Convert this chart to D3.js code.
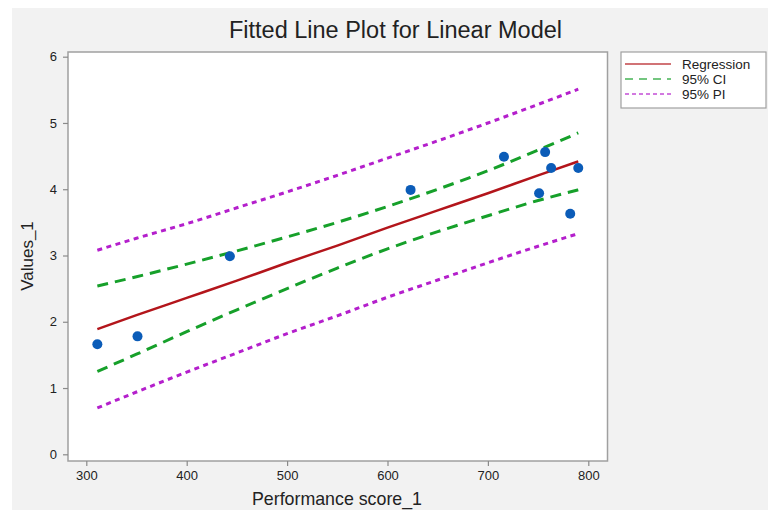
<!DOCTYPE html>
<html>
<head>
<meta charset="utf-8">
<script src="https://cdn.jsdelivr.net/npm/d3@7"></script>
<style>
  body { margin: 0; background: #fff; }
  text { font-family: "Liberation Sans", Arial, sans-serif; fill: #222; }
</style>
</head>
<body>
<div id="chart"></div>
<script>
// observed points
var scoreX = [311, 351, 443, 623, 716, 757, 763, 790, 751, 782];
var valueY = [1.66, 1.78, 2.99, 3.99, 4.49, 4.56, 4.32, 4.32, 3.94, 3.63];

// fitted line and bands, read at these x positions
var fitX  = [311, 350, 400, 450, 500, 550, 600, 650, 700, 750, 790];
var fitY  = [1.89, 2.10, 2.36, 2.62, 2.89, 3.15, 3.42, 3.68, 3.94, 4.21, 4.42];
var ciLow = [1.25, 1.51, 1.85, 2.18, 2.50, 2.81, 3.10, 3.36, 3.60, 3.83, 3.99];
var ciHigh = [2.54, 2.68, 2.87, 3.07, 3.28, 3.50, 3.74, 4.00, 4.28, 4.59, 4.85];
var piLow = [0.70, 0.94, 1.24, 1.53, 1.82, 2.09, 2.37, 2.63, 2.89, 3.14, 3.33];
var piHigh = [3.08, 3.26, 3.48, 3.72, 3.96, 4.21, 4.47, 4.73, 5.00, 5.28, 5.51];

var xTicks = [300, 400, 500, 600, 700, 800];
var yTicks = [0, 1, 2, 3, 4, 5, 6];
var legendNames = ["Regression", "95% CI", "95% PI"];

var W = 768, H = 510;
var frame = {left: 68, right: 607.5, top: 52, bottom: 461};

var svg = d3.select("#chart").append("svg")
    .attr("width", W)
    .attr("height", H);

// grey page background
svg.append("rect")
    .attr("x", 12).attr("y", 8)
    .attr("width", W - 12).attr("height", H - 8)
    .attr("fill", "#f2f2f2");

// plot area
svg.append("rect")
    .attr("x", frame.left).attr("y", frame.top)
    .attr("width", frame.right - frame.left)
    .attr("height", frame.bottom - frame.top)
    .attr("fill", "#fff")
    .attr("stroke", "#a0a0a0")
    .attr("stroke-width", 1.5);

var x = d3.scaleLinear().domain([300, 800]).range([86.3, 588.3]);
var y = d3.scaleLinear().domain([0, 6]).range([454.3, 56.7]);

// axes
var xAxis = svg.append("g")
    .attr("transform", "translate(0," + frame.bottom + ")")
    .call(d3.axisBottom(x).tickValues(xTicks).tickSize(5).tickPadding(5).tickFormat(d3.format("d")));
var yAxis = svg.append("g")
    .attr("transform", "translate(" + frame.left + ",0)")
    .call(d3.axisLeft(y).tickValues(yTicks).tickSize(5).tickPadding(6).tickFormat(d3.format("d")));

[xAxis, yAxis].forEach(function(a) {
  a.select(".domain").remove();
  a.selectAll(".tick line").attr("stroke", "#8a8a8a").attr("stroke-width", 1.2);
  a.selectAll(".tick text").style("font-size", "13px").attr("fill", "#222");
});

// lines
var line = function(vals) {
  return d3.line()
    .curve(d3.curveMonotoneX)
    .x(function(d, i) { return x(fitX[i]); })
    .y(function(d) { return y(d); })(vals);
};

var series = [
  {vals: piLow,  color: "#b41fcc", dash: "5,4.5", w: 3},
  {vals: piHigh, color: "#b41fcc", dash: "5,4.5", w: 3},
  {vals: ciLow,  color: "#16a02a", dash: "11,7", w: 3},
  {vals: ciHigh, color: "#16a02a", dash: "11,7", w: 3},
  {vals: fitY,   color: "#b3151b", dash: null, w: 2.5}
];

svg.append("g").selectAll("path")
  .data(series)
  .enter().append("path")
    .attr("d", function(d) { return line(d.vals); })
    .attr("fill", "none")
    .attr("stroke", function(d) { return d.color; })
    .attr("stroke-width", function(d) { return d.w; })
    .attr("stroke-dasharray", function(d) { return d.dash; });

// points
svg.append("g").selectAll("circle")
  .data(scoreX)
  .enter().append("circle")
    .attr("cx", function(d) { return x(d); })
    .attr("cy", function(d, i) { return y(valueY[i]); })
    .attr("r", 5)
    .attr("fill", "#0b5cb8");

// title and axis labels
svg.append("text")
    .attr("x", 395.5).attr("y", 38)
    .attr("text-anchor", "middle")
    .style("font-size", "23.5px")
    .text("Fitted Line Plot for Linear Model");

svg.append("text")
    .attr("x", 337).attr("y", 505)
    .attr("text-anchor", "middle")
    .style("font-size", "17.8px")
    .text("Performance score_1");

svg.append("text")
    .attr("transform", "translate(33,256) rotate(-90)")
    .attr("text-anchor", "middle")
    .style("font-size", "17px")
    .text("Values_1");

// legend
var lg = svg.append("g");
lg.append("rect")
    .attr("x", 621).attr("y", 52)
    .attr("width", 145).attr("height", 56)
    .attr("fill", "#fff")
    .attr("stroke", "#a0a0a0")
    .attr("stroke-width", 1.2);

var legendStyle = [series[4], series[2], series[0]];
var item = lg.selectAll(".legend")
    .data(legendNames)
    .enter().append("g")
    .attr("class", "legend")
    .attr("transform", function(d, i) { return "translate(0," + (64 + i * 15) + ")"; });

item.append("line")
    .attr("x1", 625).attr("x2", 671)
    .attr("stroke", function(d, i) { return legendStyle[i].color; })
    .attr("stroke-opacity", 0.6)
    .attr("stroke-width", 2)
    .attr("stroke-dasharray", function(d, i) { return i == 0 ? null : (i == 1 ? "8,6" : "4,3"); });

item.append("text")
    .attr("x", 682)
    .attr("dy", "0.35em")
    .style("font-size", "13.5px")
    .text(function(d) { return d; });
</script>
</body>
</html>
